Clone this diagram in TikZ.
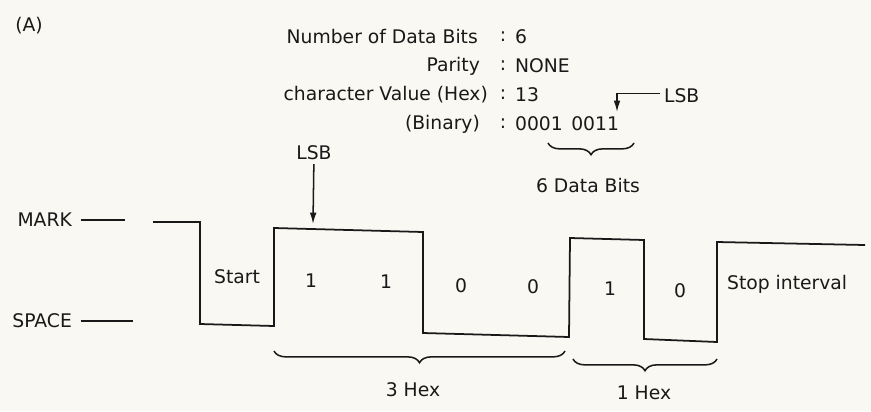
\documentclass[tikz,border=0pt]{standalone}
\usepackage{fontspec}
\setmainfont{DejaVu Sans}
\usetikzlibrary{arrows.meta,decorations.pathreplacing,positioning}
\definecolor{papel}{RGB}{250,248,242}
\definecolor{tinta}{RGB}{25,25,25}

\begin{document}
\begin{tikzpicture}[x=0.03cm, y=-0.03cm,
    font=\fontsize{16}{19}\selectfont,
    every node/.style={text=tinta},
    senal/.style={draw=tinta, line width=1.5pt, line join=miter},
    etiqueta/.style={anchor=east},
    valor/.style={anchor=west},
    llave/.style={draw=tinta, line width=1.3pt, decorate,
                  decoration={brace, mirror, amplitude=10pt}},
    flecha/.style={draw=tinta, line width=1.3pt,
                   -{Latex[length=3.4mm, width=2mm]}}]

    % Fondo de papel
    \fill[papel] (0,0) rectangle (871,411);

    % Título del panel
    \node (panel) at (29,26) {(A)};

    % Parámetros del carácter
    \node (nbits) [etiqueta] at (482,37) {Number of Data Bits};
    \node (paridad) [etiqueta] at (484,66) {Parity};
    \node (valhex) [etiqueta] at (492,95) {character Value (Hex)};
    \node (valbin) [etiqueta] at (484,124) {(Binary)};

    \node (p1) at (503,37) {:};
    \node (p2) at (503,66) {:};
    \node (p3) at (503,95) {:};
    \node (p4) at (503,124) {:};

    \node (vbits) [valor] at (511,37) {6};
    \node (vpar) [valor] at (511,66) {NONE};
    \node (vhex) [valor] at (511,95) {13};
    \node (vbin) [valor] at (511,124) {0001\hspace{0.45em}0011};

    % Bit menos significativo del valor binario
    \node (lsbB) [valor] at (660,96) {LSB};
    \coordinate (bitlsb) at (617,112);
    \draw[flecha] ([yshift=2pt]lsbB.west) -| (bitlsb);

    % Llave de los 6 bits de datos
    \coordinate (d0) at (548,143);
    \coordinate (d1) at (634,143);
    \draw[llave] (d0) -- (d1);
    \node (datos) at (588,186) {6 Data Bits};

    % Niveles MARK y SPACE
    \node (mark) [etiqueta] at (76,220) {MARK};
    \coordinate (marca) at (125,220);
    \draw[senal, shorten <=4pt] (mark) -- (marca);
    \node (space) [etiqueta] at (76,321) {SPACE};
    \coordinate (espacio) at (133,321);
    \draw[senal, shorten <=4pt] (space) -- (espacio);

    % Forma de onda de la trama
    \draw[senal] (153,222) -- (200,222) -- (200,324) -- (274,326)
        -- (274,228) -- (423,232) -- (423,333) -- (569,337)
        -- (570,238) -- (644,240) -- (644,339) -- (717,342)
        -- (717,242) -- (865,245);

    % Etiquetas de cada bit
    \node (start) at (237,277) {Start};
    \node (b0) at (311,281) {1};
    \node (b1) at (386,282) {1};
    \node (b2) at (461,286) {0};
    \node (b3) at (533,287) {0};
    \node (b4) at (610,289) {1};
    \node (b5) at (680,291) {0};
    \node (stop) [valor] at (723,284) {Stop interval};

    % Flecha del LSB en la trama
    \node (lsbA) at (314,153) {LSB};
    \coordinate (punta) at (313,224);
    \draw[flecha] (lsbA) -- (punta);

    % Llaves de los dígitos hexadecimales
    \coordinate (h0) at (274,351);
    \coordinate (h1) at (565,351);
    \draw[llave] (h0) -- (h1);
    \node (hex3) at (413,390) {3 Hex};

    \coordinate (h2) at (573,359);
    \coordinate (h3) at (717,359);
    \draw[llave] (h2) -- (h3);
    \node (hex1) at (644,393) {1 Hex};

\end{tikzpicture}
\end{document}
